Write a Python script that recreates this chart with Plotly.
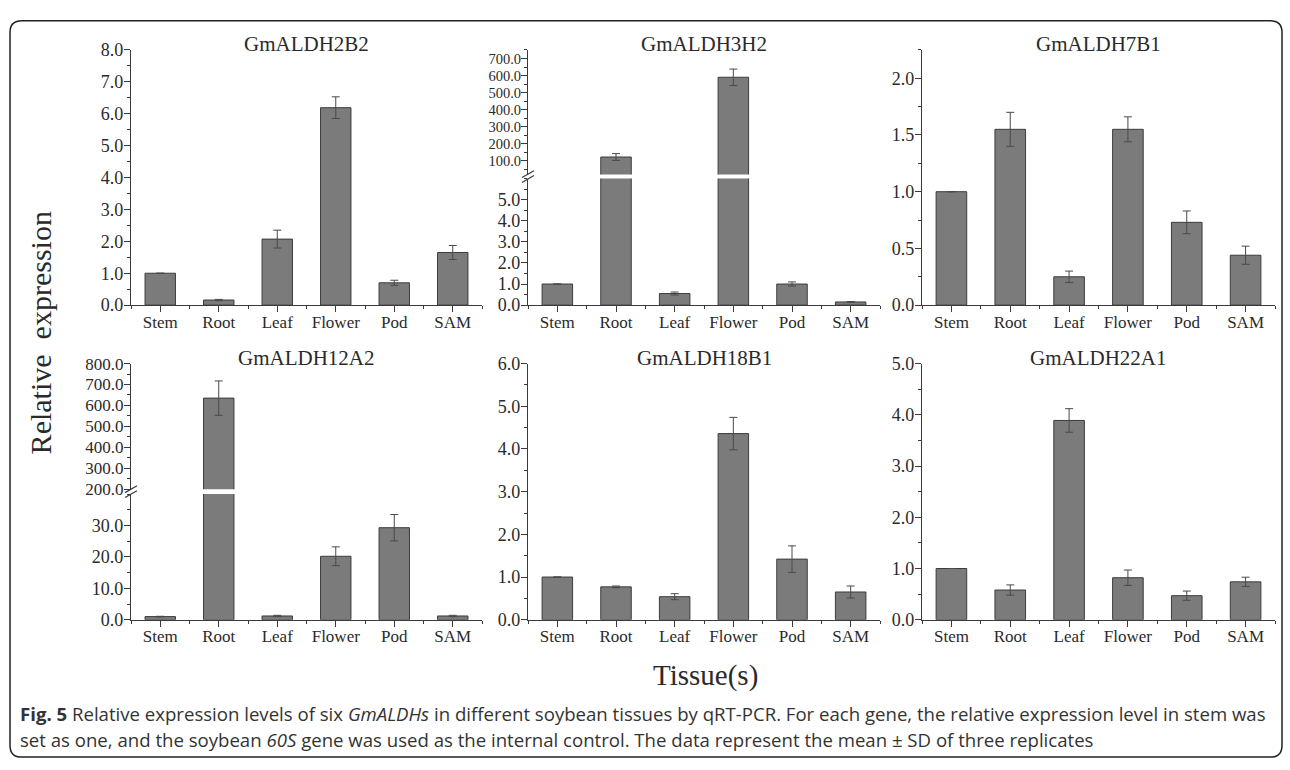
import plotly.graph_objects as go

# ---------------- data ----------------
tissues = ["Stem", "Root", "Leaf", "Flower", "Pod", "SAM"]

aldh2b2 = [1.00, 0.16, 2.07, 6.19, 0.70, 1.65]
aldh2b2_sd = [0.00, 0.02, 0.28, 0.34, 0.08, 0.22]

aldh3h2 = [1.00, 123.0, 0.55, 590.0, 1.00, 0.15]
aldh3h2_sd = [0.00, 20.0, 0.07, 48.0, 0.10, 0.02]

aldh7b1 = [1.00, 1.55, 0.25, 1.55, 0.73, 0.44]
aldh7b1_sd = [0.00, 0.15, 0.05, 0.11, 0.10, 0.08]

aldh12a2 = [1.00, 635.0, 1.20, 20.2, 29.3, 1.20]
aldh12a2_sd = [0.10, 82.0, 0.20, 3.0, 4.2, 0.20]

aldh18b1 = [1.00, 0.77, 0.54, 4.36, 1.42, 0.65]
aldh18b1_sd = [0.00, 0.02, 0.07, 0.38, 0.31, 0.14]

aldh22a1 = [1.00, 0.58, 3.89, 0.82, 0.47, 0.74]
aldh22a1_sd = [0.00, 0.10, 0.23, 0.15, 0.09, 0.09]

titles = ["GmALDH2B2", "GmALDH3H2", "GmALDH7B1", "GmALDH12A2", "GmALDH18B1", "GmALDH22A1"]

# tick values
ticks_2b2 = [0, 1, 2, 3, 4, 5, 6, 7, 8]
ticks_3h2_low = [0, 1, 2, 3, 4, 5]
ticks_3h2_high = [100, 200, 300, 400, 500, 600, 700]
ticks_7b1 = [0, 0.5, 1.0, 1.5, 2.0]
ticks_12a2_low = [0, 10, 20, 30]
ticks_12a2_high = [200, 300, 400, 500, 600, 700, 800]
ticks_18b1 = [0, 1, 2, 3, 4, 5, 6]
ticks_22a1 = [0, 1, 2, 3, 4, 5]

# ---------------- style ----------------
W, H = 1290, 770
BAR = "#7b7b7b"
EDGE = "#3c3c3c"
ERR = "#4a4a4a"
AX = "#3a3a3a"
TXT = "#2a2a2a"
SERIF = "Liberation Serif, Times New Roman, serif"

def px(p):
    return p / W

def py(p):
    return 1 - p / H

cols = [(131, 482), (528, 880), (922, 1275)]
row1 = (41, 303)
row2 = (363, 626)

xpos = list(range(len(tissues)))

fig = go.Figure()
layout = {}
shapes = []
annotations = []

counter = [0]

def add_axes(xdom, ydom_px, yrange, tickvals, minor_dtick, show_x=True, yfont=18):
    counter[0] += 1
    k = counter[0]
    sfx = "" if k == 1 else str(k)
    xa = dict(
        domain=[px(xdom[0]), px(xdom[1])], anchor="y" + sfx, range=[-0.5, len(tissues) - 0.5],
        tickmode="array", tickvals=xpos, ticktext=tissues, ticks="outside", ticklen=6,
        tickcolor=AX, showline=True, linecolor=AX, linewidth=1.2, showgrid=False, zeroline=False,
        tickfont=dict(family=SERIF, size=17, color=TXT), fixedrange=True, ticklabelstandoff=-5,
        minor=dict(tick0=0.5, dtick=1, ticks="outside", ticklen=3, tickcolor=AX),
    )
    if not show_x:
        xa = dict(domain=[px(xdom[0]), px(xdom[1])], anchor="y" + sfx,
                  range=[-0.5, len(tissues) - 0.5], visible=False, fixedrange=True)
    ya = dict(
        domain=[py(ydom_px[1]), py(ydom_px[0])], anchor="x" + sfx, range=yrange,
        tickmode="array", tickvals=tickvals, tickformat=".1f", ticks="outside", ticklen=6,
        tickcolor=AX, showline=True, linecolor=AX, linewidth=1.2, showgrid=False, zeroline=False,
        tickfont=dict(family=SERIF, size=yfont, color=TXT), fixedrange=True, ticklabelstandoff=-3,
        minor=dict(tick0=0, dtick=minor_dtick, ticks="outside", ticklen=3, tickcolor=AX),
    )
    layout["xaxis" + sfx] = xa
    layout["yaxis" + sfx] = ya
    return "x" + sfx, "y" + sfx

def add_bars(xr, yr, values, errors):
    fig.add_trace(go.Bar(
        x=xpos, y=values, width=0.52, xaxis=xr, yaxis=yr, showlegend=False,
        marker=dict(color=BAR, line=dict(color=EDGE, width=1)),
        error_y=dict(type="data", array=errors, visible=True, color=ERR, thickness=1, width=4),
    ))

def break_mark(xpix, ygap):
    for d in (-2.5, 2.5):
        shapes.append(dict(type="line", xref="paper", yref="paper",
                           x0=px(xpix - 6), y0=py(ygap + d + 3.5),
                           x1=px(xpix + 6), y1=py(ygap + d - 3.5),
                           line=dict(color=AX, width=1.2)))

def add_title(text, col, ypix):
    annotations.append(dict(text=text, xref="paper", yref="paper",
                            x=px((col[0] + col[1]) / 2), y=py(ypix), showarrow=False,
                            xanchor="center", yanchor="middle",
                            font=dict(family=SERIF, size=21, color=TXT)))

# Panel 1
xr, yr = add_axes(cols[0], row1, [0, 8], ticks_2b2, 0.5)
add_bars(xr, yr, aldh2b2, aldh2b2_sd)

# Panel 2 (broken axis)
xr, yr = add_axes(cols[1], (173, 303), [0, 6.0], ticks_3h2_low, 0.5)
add_bars(xr, yr, aldh3h2, aldh3h2_sd)
xr2, yr2 = add_axes(cols[1], (41, 169), [20, 750], ticks_3h2_high, 50, show_x=False, yfont=14.5)
add_bars(xr2, yr2, aldh3h2, aldh3h2_sd)
break_mark(cols[1][0], 171)

# Panel 3
xr, yr = add_axes(cols[2], row1, [0, 2.25], ticks_7b1, 0.25)
add_bars(xr, yr, aldh7b1, aldh7b1_sd)

# Panel 4 (broken axis)
xr, yr = add_axes(cols[0], (497, 626), [0, 40], ticks_12a2_low, 5)
add_bars(xr, yr, aldh12a2, aldh12a2_sd)
xr2, yr2 = add_axes(cols[0], (363, 492), [200, 800], ticks_12a2_high, 50, show_x=False, yfont=17)
add_bars(xr2, yr2, aldh12a2, aldh12a2_sd)
break_mark(cols[0][0], 494.5)

# Panel 5
xr, yr = add_axes(cols[1], row2, [0, 6], ticks_18b1, 0.5)
add_bars(xr, yr, aldh18b1, aldh18b1_sd)

# Panel 6
xr, yr = add_axes(cols[2], row2, [0, 5], ticks_22a1, 0.5)
add_bars(xr, yr, aldh22a1, aldh22a1_sd)

for i, t in enumerate(titles):
    add_title(t, cols[i % 3], 35 if i < 3 else 357)

# axis titles
annotations.append(dict(text="Relative  expression", xref="paper", yref="paper",
                        x=px(40), y=py(332), showarrow=False, textangle=-90,
                        xanchor="center", yanchor="middle",
                        font=dict(family=SERIF, size=30, color=TXT)))
annotations.append(dict(text="Tissue(s)", xref="paper", yref="paper",
                        x=px(705), y=py(683), showarrow=False,
                        xanchor="center", yanchor="middle",
                        font=dict(family=SERIF, size=29, color=TXT)))

# caption
CAP = "Open Sans, Noto Sans, sans-serif"
cap1 = ("<b>Fig. 5</b> Relative expression levels of six <i>GmALDHs</i> in different soybean tissues by "
        "qRT-PCR. For each gene, the relative expression level in stem was")
cap2 = ("set as one, and the soybean <i>60S</i> gene was used as the internal control. "
        "The data represent the mean ± SD of three replicates")
for txt, yp in ((cap1, 722), (cap2, 749)):
    annotations.append(dict(text=txt, xref="paper", yref="paper", x=px(18), y=py(yp),
                            showarrow=False, xanchor="left", yanchor="middle",
                            font=dict(family=CAP, size=18.6, color="#333333")))

# rounded border
x0, y0, x1, y1, r = px(10), py(11), px(1282), py(767), 12
rx, ry = r / W, r / H
path = (f"M {x0+rx},{y0} L {x1-rx},{y0} Q {x1},{y0} {x1},{y0-ry} "
        f"L {x1},{y1+ry} Q {x1},{y1} {x1-rx},{y1} L {x0+rx},{y1} Q {x0},{y1} {x0},{y1+ry} "
        f"L {x0},{y0-ry} Q {x0},{y0} {x0+rx},{y0} Z")
shapes.append(dict(type="path", xref="paper", yref="paper", path=path,
                   line=dict(color="#222222", width=1.5)))

fig.update_layout(
    width=W, height=H, margin=dict(l=0, r=0, t=0, b=0),
    paper_bgcolor="white", plot_bgcolor="white",
    bargap=0.48, shapes=shapes, annotations=annotations, showlegend=False,
    **layout,
)
fig.write_html("out.html", config={"displayModeBar": False})
